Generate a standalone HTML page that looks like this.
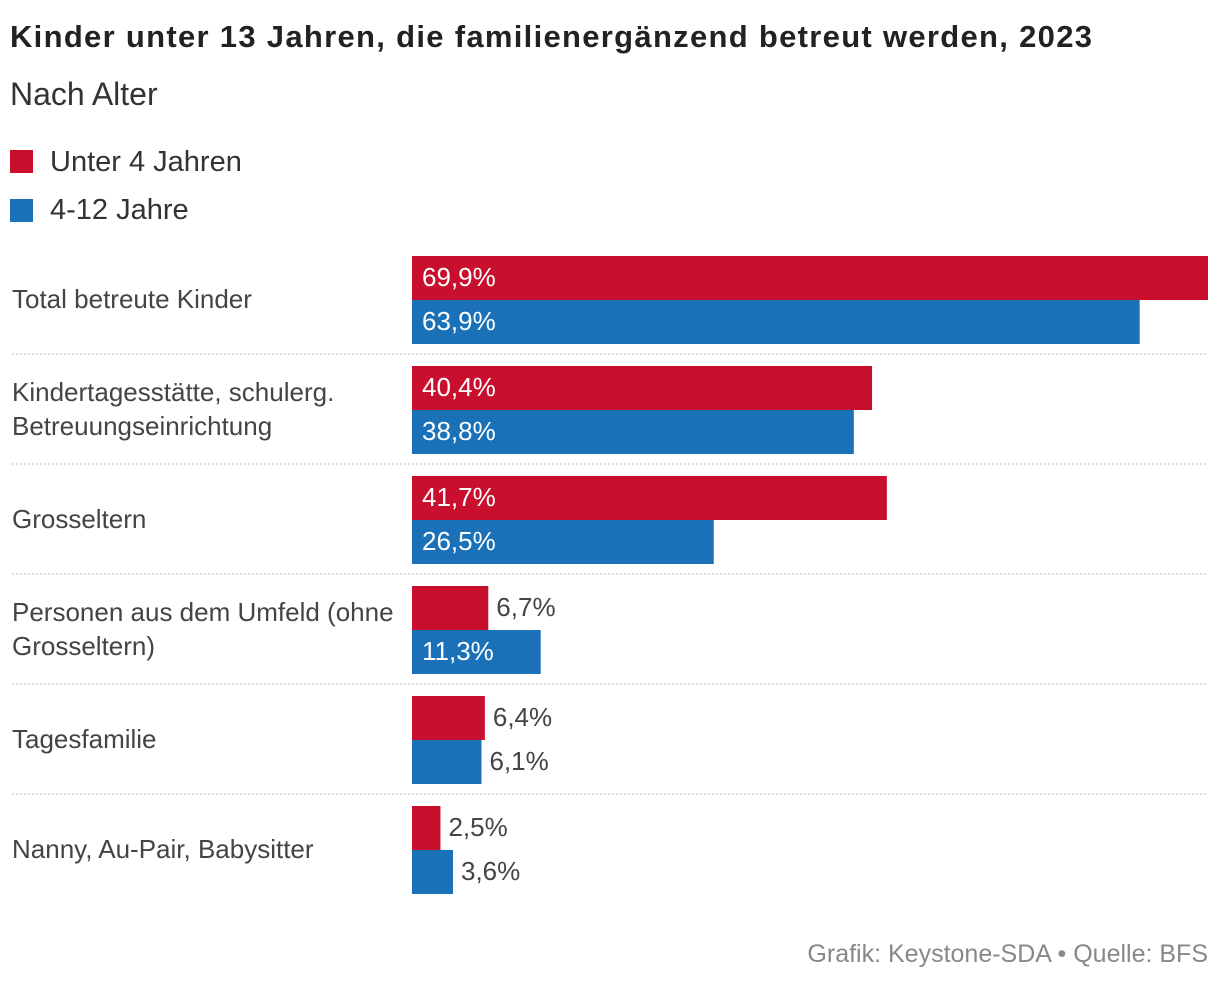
<!DOCTYPE html>
<html><head><meta charset="utf-8">
<style>
body{margin:0;background:#fff;width:1220px;height:984px;overflow:hidden;font-family:"Liberation Sans","DejaVu Sans",sans-serif;}
svg text{font-family:"Liberation Sans","DejaVu Sans",sans-serif;}
</style></head><body>
<svg id="chart" width="1220" height="984">
<text x="10" y="47" font-size="31" font-weight="bold" fill="#222" textLength="1082" lengthAdjust="spacing">Kinder unter 13 Jahren, die familienergänzend betreut werden, 2023</text>
<text x="10" y="105" font-size="32" fill="#333">Nach Alter</text>
<rect x="10" y="150" width="23" height="23" fill="#c8102e"/>
<text x="50" y="171" font-size="29" fill="#333">Unter 4 Jahren</text>
<rect x="10" y="199" width="23" height="23" fill="#1a71b8"/>
<text x="50" y="219" font-size="29" fill="#333">4-12 Jahre</text>
<g id="bars"></g>
<text x="1208" y="962" font-size="25" fill="#888" text-anchor="end">Grafik: Keystone-SDA • Quelle: BFS</text>
</svg>
<script>
const categories=[["Total betreute Kinder"],["Kindertagesstätte, schulerg.","Betreuungseinrichtung"],["Grosseltern"],["Personen aus dem Umfeld (ohne","Grosseltern)"],["Tagesfamilie"],["Nanny, Au-Pair, Babysitter"]];
const under4=[69.9,40.4,41.7,6.7,6.4,2.5];
const age4to12=[63.9,38.8,26.5,11.3,6.1,3.6];
const NS="http://www.w3.org/2000/svg";
const g=document.getElementById('bars');
const x0=412,pxPer=(1208-412)/69.9;
const xs=v=>v*pxPer;
const rowY=i=>256+i*110;
function el(t,a){const e=document.createElementNS(NS,t);for(const k in a)e.setAttribute(k,a[k]);g.appendChild(e);return e;}
const fmt=v=>v.toFixed(1).replace('.',',')+'%';
categories.forEach((c,i)=>{
  const y=rowY(i);
  const lines=c.length;
  c.forEach((ln,j)=>{
    const t=el('text',{x:12,y:y+44+8+(j-(lines-1)/2)*34,'font-size':26,fill:'#444'});
    t.textContent=ln;
    
    
  });
  [[under4,'#c8102e',0],[age4to12,'#1a71b8',44]].forEach(([arr,col,off])=>{
    const v=arr[i],w=xs(v);
    const r=el('rect',{x:x0,y:y+off,width:w,height:44,fill:col});
    
    
    const inside=w>100;
    const t=el('text',{x:inside?x0+10:x0+w+8,y:y+off+30,'font-size':26,fill:inside?'#fff':'#444'});
    t.textContent=fmt(v);
    
    
  });
  if(i<categories.length-1){
    const l=el('line',{x1:12,x2:1208,y1:y+98,y2:y+98,stroke:'#bbb','stroke-dasharray':'2,2'});
    
    
  }
});
</script>
</body></html>
